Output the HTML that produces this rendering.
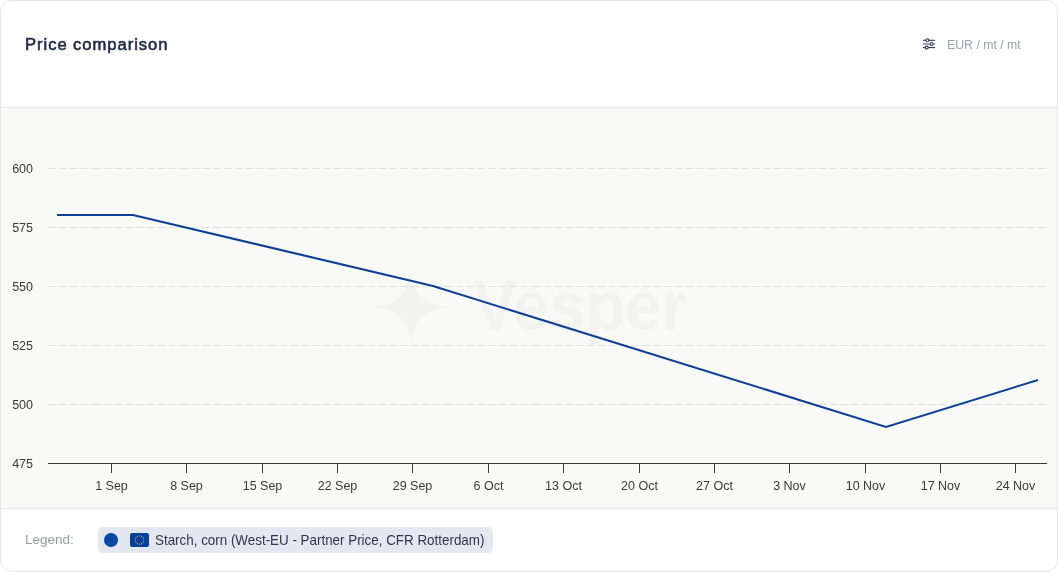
<!DOCTYPE html>
<html>
<head>
<meta charset="utf-8">
<style>
html,body{margin:0;padding:0;width:1058px;height:572px;overflow:hidden;background:#ffffff;}
body{font-family:"Liberation Sans",sans-serif;position:relative;-webkit-font-smoothing:antialiased;}
.title,.unit,.legend,.ltxt{will-change:transform;}
.card{position:absolute;left:0;top:0;width:1056px;height:570px;border:1px solid #e6e6e6;border-radius:12px;background:#fff;overflow:hidden;}
.hdr{position:absolute;left:0;top:0;width:1056px;height:106px;border-bottom:1px solid #e6e6e6;}
.title{position:absolute;left:25px;top:35px;font-size:16.6px;font-weight:normal;-webkit-text-stroke:0.6px #1f2847;letter-spacing:0.95px;color:#1f2847;white-space:nowrap;}
.unit{position:absolute;left:947px;top:38px;font-size:12.3px;color:#9ea1a9;white-space:nowrap;}
.chart{position:absolute;left:0;top:107px;width:1056px;height:400px;background:#f9f9f8;border-bottom:1px solid #e6e6e6;}
.legend{position:absolute;left:25px;top:532px;font-size:13.5px;color:#989ba5;white-space:nowrap;}
.chip{position:absolute;left:98px;top:527px;width:395px;height:26px;border-radius:5px;background:#e3e8f0;}
.dot{position:absolute;left:104px;top:533px;width:14px;height:14px;border-radius:50%;background:#0b47a8;}
.flag{position:absolute;left:130px;top:533px;width:19px;height:14px;border-radius:2px;background:#0b3f9f;}
.ltxt{position:absolute;left:155px;top:533px;font-size:13.4px;transform:scaleY(1.1);transform-origin:0 12px;color:#2d3650;white-space:nowrap;}
svg{position:absolute;left:0;top:0;will-change:transform;}
</style>
</head>
<body>
<div class="card">
  <div class="hdr"></div>
  <div class="chart"></div>
</div>
<div class="title">Price comparison</div>
<svg width="20" height="20" style="left:918px;top:34px" viewBox="918 34 20 20">
  <g stroke="#2b334d" stroke-width="1.1" fill="none">
    <line x1="923" y1="40.3" x2="935" y2="40.3"/>
    <line x1="923" y1="44" x2="935" y2="44" stroke="#5a6075"/>
    <line x1="923" y1="47.6" x2="935" y2="47.6"/>
  </g>
  <g fill="#fff" stroke="#2b334d" stroke-width="1.1">
    <circle cx="927.4" cy="40.3" r="1.5"/>
    <circle cx="931.5" cy="44" r="1.5"/>
    <circle cx="926.7" cy="47.6" r="1.5"/>
  </g>
</svg>
<div class="unit">EUR / mt / mt</div>

<svg width="1058" height="572" viewBox="0 0 1058 572">
  <!-- watermark -->
  <g fill="#f2f2f1">
    <path d="M411 269 Q412 306 450 307 Q413 309 411 344 Q409 309 372 307 Q409 305 411 269 Z"/>
    <text x="473" y="330" font-family="Liberation Sans" font-weight="bold" font-size="70" textLength="214" lengthAdjust="spacingAndGlyphs">Vesper</text>
  </g>
  <!-- grid -->
  <g stroke="#e2e2e2" stroke-width="1" stroke-dasharray="8 3">
    <line x1="48" y1="168.5" x2="1047" y2="168.5"/>
    <line x1="48" y1="227.5" x2="1047" y2="227.5"/>
    <line x1="48" y1="286.5" x2="1047" y2="286.5"/>
    <line x1="48" y1="345.5" x2="1047" y2="345.5"/>
    <line x1="48" y1="404.5" x2="1047" y2="404.5"/>
  </g>
  <!-- axis -->
  <g stroke="#3a3a3a" stroke-width="1">
    <line x1="48" y1="463.5" x2="1047" y2="463.5"/>
    <line x1="111.5" y1="463" x2="111.5" y2="473"/>
    <line x1="186.5" y1="463" x2="186.5" y2="473"/>
    <line x1="262.5" y1="463" x2="262.5" y2="473"/>
    <line x1="337.5" y1="463" x2="337.5" y2="473"/>
    <line x1="412.5" y1="463" x2="412.5" y2="473"/>
    <line x1="488.5" y1="463" x2="488.5" y2="473"/>
    <line x1="563.5" y1="463" x2="563.5" y2="473"/>
    <line x1="639.5" y1="463" x2="639.5" y2="473"/>
    <line x1="714.5" y1="463" x2="714.5" y2="473"/>
    <line x1="789.5" y1="463" x2="789.5" y2="473"/>
    <line x1="865.5" y1="463" x2="865.5" y2="473"/>
    <line x1="940.5" y1="463" x2="940.5" y2="473"/>
    <line x1="1015.5" y1="463" x2="1015.5" y2="473"/>
  </g>
  <g font-family="Liberation Sans" font-size="12.5" fill="#3a3a3a" text-anchor="end">
    <text x="33" y="173">600</text>
    <text x="33" y="232">575</text>
    <text x="33" y="291">550</text>
    <text x="33" y="350">525</text>
    <text x="33" y="409">500</text>
    <text x="33" y="468">475</text>
  </g>
  <g font-family="Liberation Sans" font-size="12.5" fill="#3a3a3a" text-anchor="middle">
    <text x="111.5" y="490">1 Sep</text>
    <text x="186.5" y="490">8 Sep</text>
    <text x="262.5" y="490">15 Sep</text>
    <text x="337.5" y="490">22 Sep</text>
    <text x="412.5" y="490">29 Sep</text>
    <text x="488.5" y="490">6 Oct</text>
    <text x="563.5" y="490">13 Oct</text>
    <text x="639.5" y="490">20 Oct</text>
    <text x="714.5" y="490">27 Oct</text>
    <text x="789.5" y="490">3 Nov</text>
    <text x="865.5" y="490">10 Nov</text>
    <text x="940.5" y="490">17 Nov</text>
    <text x="1015.5" y="490">24 Nov</text>
  </g>
  <polyline points="57,215 133,215 433,286 886,427 1038,380" fill="none" stroke="#0c4096" stroke-width="2"/>
</svg>

<div class="legend">Legend:</div>
<div class="chip"></div>
<div class="dot"></div>
<div class="flag"></div>
<svg width="1058" height="572" style="left:0;top:0"><g fill="#e8c84a"><circle cx="143.70" cy="540.00" r="0.55"/><circle cx="143.14" cy="542.10" r="0.55"/><circle cx="141.60" cy="543.64" r="0.55"/><circle cx="139.50" cy="544.20" r="0.55"/><circle cx="137.40" cy="543.64" r="0.55"/><circle cx="135.86" cy="542.10" r="0.55"/><circle cx="135.30" cy="540.00" r="0.55"/><circle cx="135.86" cy="537.90" r="0.55"/><circle cx="137.40" cy="536.36" r="0.55"/><circle cx="139.50" cy="535.80" r="0.55"/><circle cx="141.60" cy="536.36" r="0.55"/><circle cx="143.14" cy="537.90" r="0.55"/></g></svg>
<div class="ltxt">Starch, corn (West-EU - Partner Price, CFR Rotterdam)</div>
</body>
</html>
